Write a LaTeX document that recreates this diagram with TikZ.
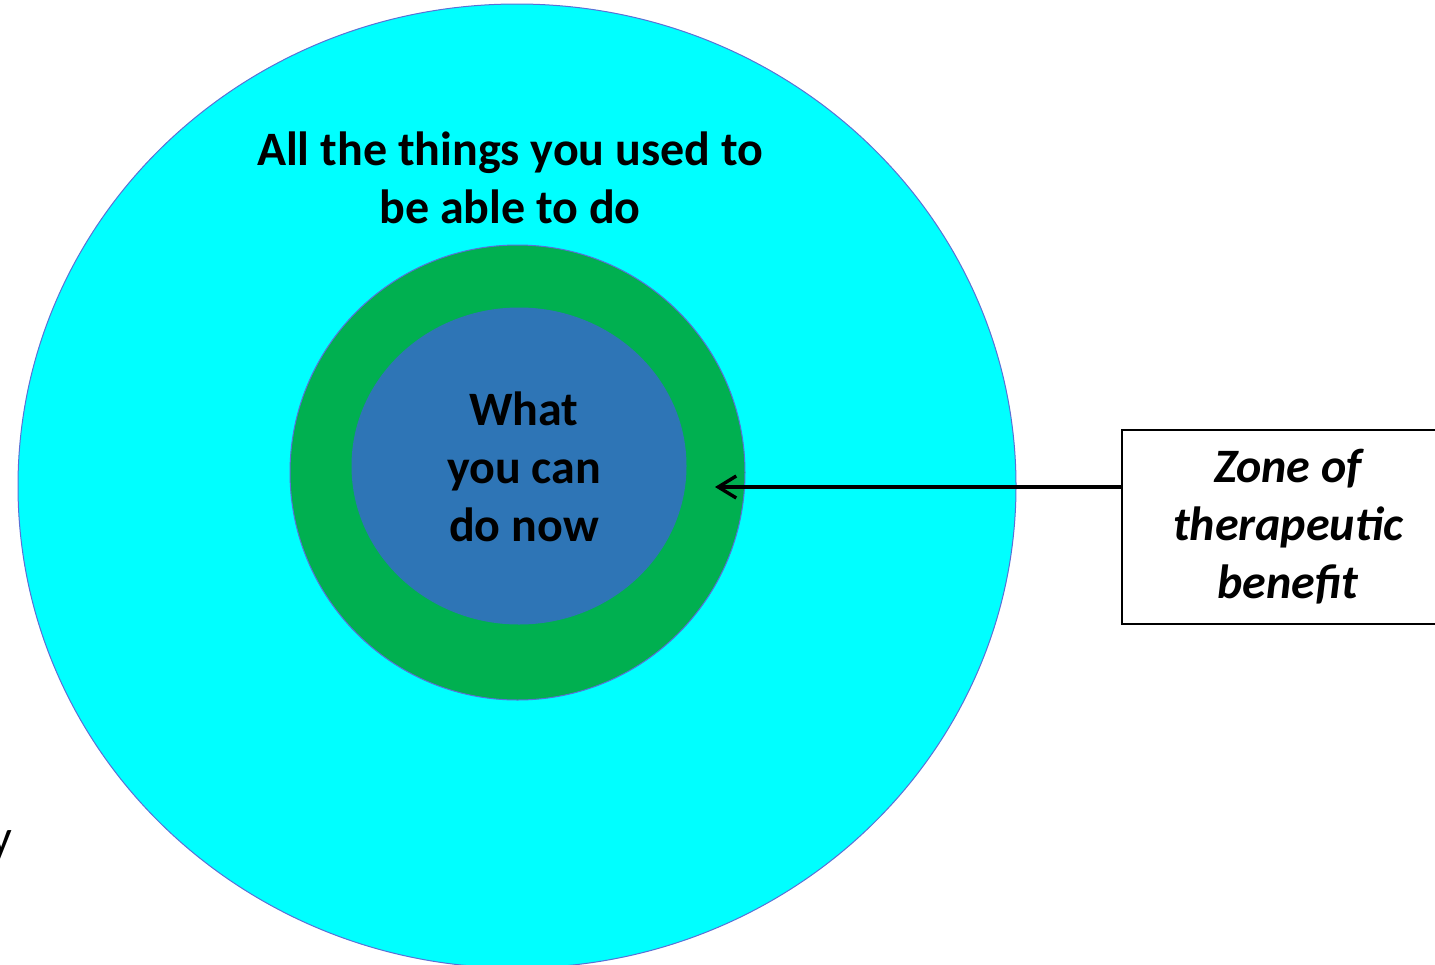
\documentclass[tikz,border=0pt]{standalone}
\usepackage{fontspec}
\setmainfont{Carlito}
\usepackage{tikz}
\usetikzlibrary{positioning,arrows.meta,calc}
\usepackage{xcolor}
\definecolor{aqua}{HTML}{00FFFF}
\definecolor{leaf}{HTML}{00B050}
\definecolor{steel}{HTML}{2E75B6}
\definecolor{rim}{HTML}{5B6FD6}

\begin{document}
\begin{tikzpicture}[x=0.5pt, y=-0.5pt,
  label/.style={font=\fontsize{24}{29}\selectfont\bfseries, align=center, text=black},
  zonebox/.style={draw=black, line width=1pt, fill=white, minimum width=166pt, minimum height=97pt,
    font=\fontsize{24}{29}\selectfont\bfseries\itshape, align=center}]
  % page frame, 1 unit = 1 px of the reference (y downwards)
  \useasboundingbox (0,0) rectangle (1435,964);

  % outer ring: everything you used to manage
  \draw[fill=aqua, draw=rim, line width=0.5pt] (517,486) ellipse (499 and 482);
  % middle ring: zone of benefit
  \draw[fill=leaf, draw=rim, line width=0.5pt] (517.5,472.5) ellipse (227.5 and 227.5);
  % inner ring: what you can do now
  \draw[fill=steel, draw=steel, line width=0.5pt] (519,466) ellipse (167 and 158);

  % ring labels
  \node[label] (past) at (510,178) {All the things you used to\\be able to do};
  \node[label] (now) at (524,467) {What\\you can\\do now};

  % cut-off text at the left edge
  \node[font=\fontsize{24}{29}\selectfont, anchor=east, inner sep=0pt] (edge) at (13,846) {y};

  % callout box and arrow
  \node[zonebox] (zone) at (1288,527) {Zone of\\therapeutic\\benefit};
  \coordinate (tip) at (715,487);
  \draw[line width=1.7pt, -{Straight Barb[length=9pt,width=11pt]}] (zone.west |- tip) -- (tip);
\end{tikzpicture}
\end{document}
